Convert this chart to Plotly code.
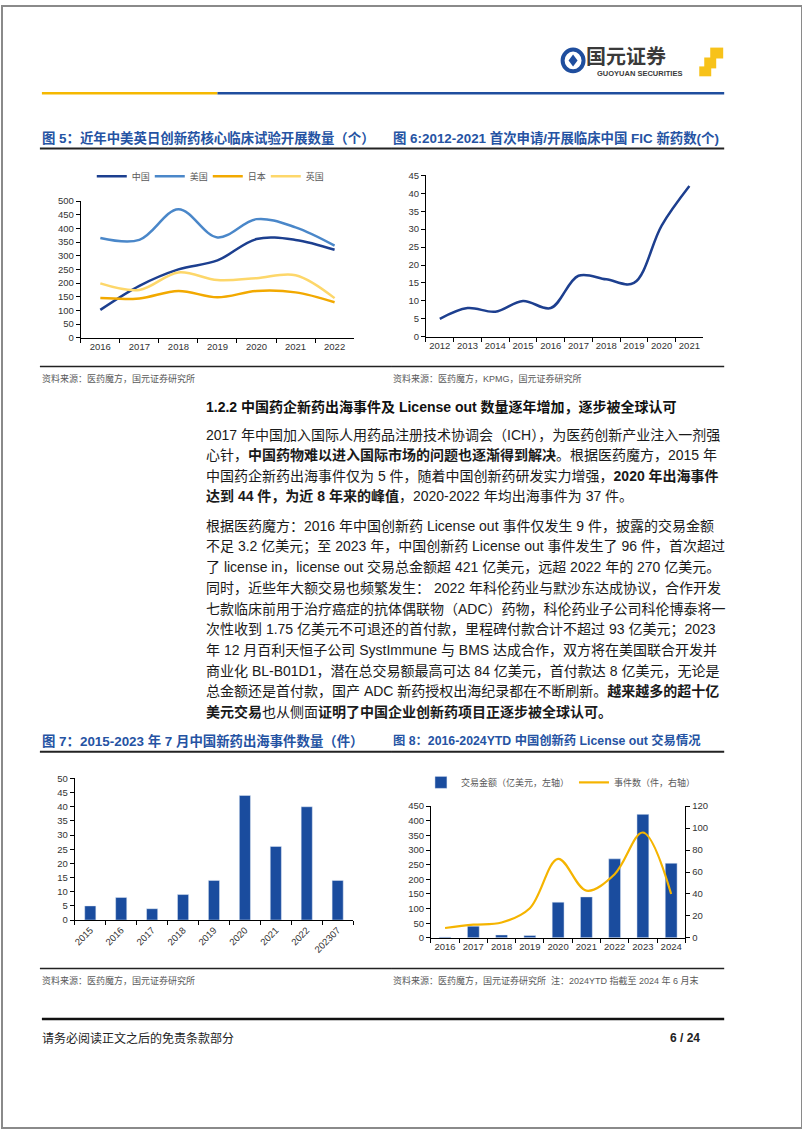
import plotly.graph_objects as go

W, H = 802, 1133
def X(px): return px / W
def Y(py): return 1 - py / H

FONT = "Arial, 'Liberation Sans', 'Noto Sans CJK SC', sans-serif"
CJK = "'Noto Sans CJK SC', 'Liberation Sans', sans-serif"

# ---------------- data ----------------
years5 = ["2016", "2017", "2018", "2019", "2020", "2021", "2022"]
china5 = [102, 190, 250, 283, 361, 358, 322]
usa5 = [365, 358, 470, 367, 434, 404, 337]
japan5 = [145, 144, 171, 148, 171, 166, 130]
uk5 = [199, 175, 239, 211, 218, 229, 145]
names5 = ["中国", "美国", "日本", "英国"]

years6 = ["2012", "2013", "2014", "2015", "2016", "2017", "2018", "2019", "2020", "2021"]
fic6 = [5, 8, 7, 10, 8, 17, 16, 15, 31, 42]

cats7 = ["2015", "2016", "2017", "2018", "2019", "2020", "2021", "2022", "202307"]
events7 = [5, 8, 4, 9, 14, 44, 26, 40, 14]

years8 = ["2016", "2017", "2018", "2019", "2020", "2021", "2022", "2023", "2024"]
amount8 = [3, 40, 10, 8, 122, 140, 270, 422, 255]
deals8 = [9, 12, 14, 27, 72, 43, 58, 96, 40]
names8 = ["交易金额（亿美元，左轴）", "事件数（件，右轴）"]

yticks5 = list(range(0, 501, 50))
yticks6 = list(range(0, 46, 5))
yticks7 = list(range(0, 51, 5))
yticks8l = list(range(0, 451, 50))
yticks8r = list(range(0, 121, 20))

title5 = "图 5：近年中美英日创新药核心临床试验开展数量（个）"
title6 = "图 6:2012-2021 首次申请/开展临床中国 FIC 新药数(个)"
title7 = "图 7：2015-2023 年 7 月中国新药出海事件数量（件）"
title8 = "图 8：2016-2024YTD 中国创新药 License out 交易情况"
source5 = "资料来源：医药魔方，国元证券研究所"
source6 = "资料来源：医药魔方，KPMG，国元证券研究所"
source7 = "资料来源：医药魔方，国元证券研究所"
source8 = "资料来源：医药魔方，国元证券研究所  注：2024YTD 指截至 2024 年 6 月末"

heading = "<b>1.2.2 中国药企新药出海事件及 License out 数量逐年增加，逐步被全球认可</b>"
para1 = [
    "2017 年中国加入国际人用药品注册技术协调会（ICH），为医药创新产业注入一剂强",
    "心针，<b>中国药物难以进入国际市场的问题也逐渐得到解决</b>。根据医药魔方，2015 年",
    "中国药企新药出海事件仅为 5 件，随着中国创新药研发实力增强，<b>2020 年出海事件</b>",
    "<b>达到 44 件，为近 8 年来的峰值</b>，2020-2022 年均出海事件为 37 件。",
]
para2 = [
    "根据医药魔方：2016 年中国创新药 License out 事件仅发生 9 件，披露的交易金额",
    "不足 3.2 亿美元；至 2023 年，中国创新药 License out 事件发生了 96 件，首次超过",
    "了 license in，license out 交易总金额超 421 亿美元，远超 2022 年的 270 亿美元。",
    "同时，近些年大额交易也频繁发生： 2022 年科伦药业与默沙东达成协议，合作开发",
    "七款临床前用于治疗癌症的抗体偶联物（ADC）药物，科伦药业子公司科伦博泰将一",
    "次性收到 1.75 亿美元不可退还的首付款，里程碑付款合计不超过 93 亿美元；2023",
    "年 12 月百利天恒子公司 SystImmune 与 BMS 达成合作，双方将在美国联合开发并",
    "商业化 BL-B01D1，潜在总交易额最高可达 84 亿美元，首付款达 8 亿美元，无论是",
    "总金额还是首付款，国产 ADC 新药授权出海纪录都在不断刷新。<b>越来越多的超十亿</b>",
    "<b>美元交易</b>也从侧面<b>证明了中国企业创新药项目正逐步被全球认可。</b>",
]
footer_text = "请务必阅读正文之后的免责条款部分"
page_text = "<b>6 / 24</b>"

# ---------------- colours ----------------
colors5 = ["#1c3f8f", "#4a87c9", "#f2a900", "#fdd76a"]
navy = "#1d3f8f"
barblue = "#1a4c9e"
gold = "#f5b400"
titleblue = "#2553a3"

fig = go.Figure()

# chart 5
for name, vals, col in zip(names5, [china5, usa5, japan5, uk5], colors5):
    fig.add_trace(go.Scatter(x=years5, y=vals, name=name, mode="lines",
                             line=dict(color=col, width=2.5, shape="spline", smoothing=1.0),
                             xaxis="x", yaxis="y", legend="legend"))
# chart 6
fig.add_trace(go.Scatter(x=years6, y=fic6, mode="lines", showlegend=False,
                         line=dict(color=navy, width=2.5, shape="spline", smoothing=1.0),
                         xaxis="x2", yaxis="y2"))
# chart 7
fig.add_trace(go.Bar(x=cats7, y=events7, marker_color=barblue, width=0.36,
                     showlegend=False, xaxis="x3", yaxis="y3"))
# chart 8
fig.add_trace(go.Bar(x=years8, y=amount8, name=names8[0], marker_color=barblue, width=0.42,
                     xaxis="x4", yaxis="y4", legend="legend2"))
fig.add_trace(go.Scatter(x=years8, y=deals8, name=names8[1], mode="lines",
                         line=dict(color=gold, width=2.2, shape="spline", smoothing=1.0),
                         xaxis="x4", yaxis="y5", legend="legend2"))

ax = dict(showgrid=False, zeroline=False, showline=True, linecolor="#000", linewidth=1,
          ticks="outside", ticklen=4, tickcolor="#000", tickwidth=1,
          tickfont=dict(family=FONT, size=9.5, color="#333"))

def cat_axis(dom, anchor, n, **kw):
    d = dict(domain=dom, anchor=anchor, type="category", tickson="boundaries",
             range=[-0.5, n - 0.5], fixedrange=True, tickangle=0)
    d.update(ax)
    d.update(kw)
    return d

def val_axis(dom, anchor, rng, tv, **kw):
    d = dict(domain=dom, anchor=anchor, range=rng, tickmode="array", tickvals=tv,
             ticktext=[str(v) for v in tv], fixedrange=True)
    d.update(ax)
    d.update(kw)
    return d

fig.update_layout(
    width=W, height=H, margin=dict(l=0, r=0, t=0, b=0),
    paper_bgcolor="white", plot_bgcolor="white",
    xaxis=cat_axis([X(79), X(353)], "y", len(years5)),
    yaxis=val_axis([Y(335), Y(197)], "x", [0, 500], yticks5),
    xaxis2=cat_axis([X(425), X(703)], "y2", len(years6)),
    yaxis2=val_axis([Y(334), Y(171)], "x2", [0, 45], yticks6),
    xaxis3=cat_axis([X(73), X(352)], "y3", len(cats7), tickangle=-45),
    yaxis3=val_axis([Y(923), Y(780)], "x3", [0, 50], yticks7),
    xaxis4=cat_axis([X(430), X(685)], "y4", len(years8)),
    yaxis4=val_axis([Y(941), Y(808)], "x4", [0, 450], yticks8l),
    yaxis5=val_axis([Y(941), Y(808)], "x4", [0, 120], yticks8r, overlaying="y4", side="right"),
    bargap=0.5,
    legend=dict(orientation="h", x=X(90), y=Y(172), xanchor="left", yanchor="middle",
                font=dict(family=CJK, size=9, color="#595959"), bgcolor="rgba(0,0,0,0)",
                itemwidth=30, entrywidth=13, tracegroupgap=0),
    legend2=dict(orientation="h", x=X(420), y=Y(784), xanchor="left", yanchor="middle",
                 font=dict(family=CJK, size=9, color="#595959"), bgcolor="rgba(0,0,0,0)",
                 itemwidth=30),
)

ann = []
def txt(x, y, s, size, color="#1a1a1a", family=FONT, xanchor="left"):
    ann.append(dict(x=X(x), y=Y(y), xref="paper", yref="paper", text=s, showarrow=False,
                    xanchor=xanchor, yanchor="middle", align="left",
                    font=dict(family=family, size=size, color=color)))

# figure titles and sources
txt(38, 133, "<b>" + title5 + "</b>", 13.4, titleblue)
txt(390, 133, "<b>" + title6 + "</b>", 13.4, titleblue)
txt(38, 742, "<b>" + title7 + "</b>", 13.4, titleblue)
txt(390, 742, "<b>" + title8 + "</b>", 12.3, titleblue)
txt(38, 376, source5, 9, "#595959")
txt(390, 376, source6, 9, "#595959")
txt(38, 984, source7, 9, "#595959")
txt(390, 984, source8, 9, "#595959")

# body text
txt(203, 405, heading, 14, "#111")
for i, line in enumerate(para1):
    txt(203, 433.5 + i * 20.4, line, 14)
for i, line in enumerate(para2):
    txt(203, 525 + i * 20.9, line, 14)

# header logo text
txt(583, 50, "<b>国元证券</b>", 20, "#3a3a3a", CJK)
txt(594, 68.5, "<b>GUOYUAN SECURITIES</b>", 7.5, "#3a3a3a")
# footer
txt(38, 1042, footer_text, 12, "#222", CJK)
txt(702, 1042, page_text, 12, "#222", xanchor="right")

fig.update_layout(annotations=ann)

shapes = []
def hline(x0, x1, y, color, w):
    shapes.append(dict(type="line", xref="paper", yref="paper", x0=X(x0), x1=X(x1),
                       y0=Y(y), y1=Y(y), line=dict(color=color, width=w)))
def rect(x0, y0, x1, y1, fill, line=None, lw=0):
    shapes.append(dict(type="rect", xref="paper", yref="paper", x0=X(x0), x1=X(x1),
                       y0=Y(y1), y1=Y(y0), fillcolor=fill,
                       line=dict(color=line or fill, width=lw)))

# header rule
hline(40, 216, 88, "#f5b800", 2.5)
hline(216, 724, 88, "#1f4e9e", 2.5)
# title underlines
hline(38, 390, 144, "#222", 2)
hline(390, 724, 144, "#222", 2)
hline(38, 390, 753, "#222", 2)
hline(390, 724, 753, "#222", 2)
# source rules
hline(38, 390, 364, "#222", 1.5)
hline(390, 724, 364, "#222", 1.5)
hline(38, 390, 972, "#222", 1.5)
hline(390, 724, 972, "#222", 1.5)
# footer rule
hline(40, 724, 1023, "#111", 2.5)

# logo circle and squares
shapes.append(dict(type="circle", xref="paper", yref="paper", x0=X(562), x1=X(583),
                   y0=Y(66), y1=Y(44), fillcolor="white", line=dict(color="#1f4e9e", width=4)))
shapes.append(dict(type="path", xref="paper", yref="paper",
                   path=f"M {X(572.5)},{Y(49)} L {X(577)},{Y(55)} L {X(572.5)},{Y(61)} L {X(568)},{Y(55)} Z",
                   fillcolor="#1f4e9e", line=dict(color="#1f4e9e", width=0)))
rect(710, 42, 723, 53, "#f7c21a")
rect(704, 52, 716, 63, "#f7c21a")
rect(699, 61, 711, 71, "#f7c21a")

# page border
shapes.append(dict(type="rect", xref="paper", yref="paper", x0=0, x1=1, y0=0, y1=1,
                   line=dict(color="#8a8a8a", width=2), fillcolor="rgba(0,0,0,0)"))

fig.update_layout(shapes=shapes)

fig.write_html("out.html", config={"displayModeBar": False},
               post_script="document.body.style.margin='0px';document.body.style.overflow='hidden';")
